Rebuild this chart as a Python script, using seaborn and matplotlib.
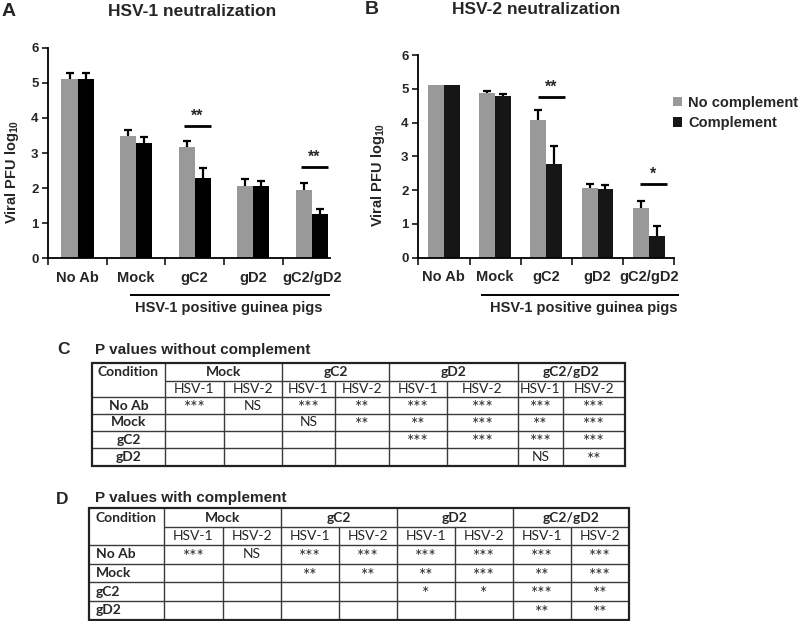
import numpy as np
import pandas as pd
import matplotlib
matplotlib.use("Agg")
import matplotlib.pyplot as plt
from matplotlib.patches import Rectangle
import seaborn as sns

# ---------------- data ----------------
categories = ["No Ab", "Mock", "gC2", "gD2", "gC2/gD2"]
hue_levels = ["No complement", "Complement"]

hsv1_nocomp = [5.10, 3.48, 3.18, 2.05, 1.94]
hsv1_nocomp_err = [0.17, 0.17, 0.17, 0.20, 0.20]
hsv1_comp = [5.10, 3.28, 2.29, 2.05, 1.27]
hsv1_comp_err = [0.17, 0.18, 0.28, 0.15, 0.14]

hsv2_nocomp = [5.10, 4.88, 4.09, 2.06, 1.47]
hsv2_nocomp_err = [0.0, 0.06, 0.27, 0.12, 0.20]
hsv2_comp = [5.10, 4.80, 2.78, 2.03, 0.65]
hsv2_comp_err = [0.0, 0.05, 0.52, 0.11, 0.30]

sig_A_cats = [2, 4]
sig_A_labels = ["**", "**"]
sig_A_levels = [3.77, 2.61]
sig_B_cats = [2, 4]
sig_B_labels = ["**", "*"]
sig_B_levels = [4.76, 2.18]

table_groups = ["Mock", "gC2", "gD2", "gC2/gD2"]
table_sub = ["HSV-1", "HSV-2"]
row_labels = ["No Ab", "Mock", "gC2", "gD2"]
pvals_no_comp = [
    ["***", "NS", "***", "**", "***", "***", "***", "***"],
    ["", "", "NS", "**", "**", "***", "**", "***"],
    ["", "", "", "", "***", "***", "***", "***"],
    ["", "", "", "", "", "", "NS", "**"],
]
pvals_comp = [
    ["***", "NS", "***", "***", "***", "***", "***", "***"],
    ["", "", "**", "**", "**", "***", "**", "***"],
    ["", "", "", "", "*", "*", "***", "**"],
    ["", "", "", "", "", "", "**", "**"],
]

# ---------------- style ----------------
sns.set_style("white")
plt.rcParams["font.family"] = ["Liberation Sans", "DejaVu Sans"]
plt.rcParams["font.weight"] = "bold"
plt.rcParams["mathtext.default"] = "regular"

GRAY = "#999999"
W, H = 800, 621
fig = plt.figure(figsize=(8, 6.21), dpi=100)


def rect(left, top, right, bottom):
    return [left / W, 1 - bottom / H, (right - left) / W, (bottom - top) / H]


axA = fig.add_axes(rect(48.3, 47.7, 330, 258.3))
axB = fig.add_axes(rect(418.3, 55, 674.3, 257.7))


def panel(ax, nc, nc_err, c, c_err, width, xmax, black, legend,
          sig_cats, sig_labels, sig_levels, span):
    df = pd.DataFrame({
        "category": categories * 2,
        "condition": [hue_levels[0]] * len(categories) + [hue_levels[1]] * len(categories),
        "value": list(nc) + list(c),
    })
    sns.barplot(data=df, x="category", y="value", hue="condition",
                order=categories, hue_order=hue_levels,
                palette=[GRAY, black], width=width, gap=0, errorbar=None,
                saturation=1, legend=legend, ax=ax, linewidth=0)
    bars = list(ax.containers)[:2]
    for cont, err in zip(bars, [nc_err, c_err]):
        xs, ys, es = [], [], []
        for p, e in zip(cont, err):
            if e > 0:
                xs.append(p.get_x() + p.get_width() / 2)
                ys.append(p.get_height())
                es.append(e)
        eb = ax.errorbar(xs, ys, yerr=[np.zeros(len(es)), es], fmt="none",
                         ecolor="black", elinewidth=1.6, capsize=2.6,
                         capthick=1.6, zorder=3)
        eb[1][0].set_visible(False)
    for i, s, y in zip(sig_cats, sig_labels, sig_levels):
        ax.plot([i + span[0], i + span[1]], [y, y], color="black", lw=2.0,
                solid_capstyle="butt", clip_on=False)
        ax.text(i + (span[0] + span[1]) / 2, y + 0.15, s, ha="center",
                va="baseline", fontsize=11.5, fontweight="bold")
    ax.set_ylim(0, 6)
    ax.set_xlim(-0.5, xmax)
    ax.set_yticks(range(7))
    ax.set_yticklabels([str(v) for v in range(7)], fontsize=9.5, fontweight="bold")
    bounds = np.arange(-0.5, xmax + 0.01, 1.0)
    ax.set_xticks(bounds, labels=[""] * len(bounds))
    ax.set_xticks(range(len(categories)), labels=categories, minor=True)
    ax.tick_params(axis="x", which="major", direction="out", length=5,
                   width=1.3, bottom=True)
    ax.tick_params(axis="x", which="minor", length=0, pad=9, labelsize=10.5)
    for lab in ax.get_xticklabels(minor=True):
        lab.set_fontweight("bold")
    ax.tick_params(axis="y", direction="out", length=4, width=1.3, pad=3, left=True)
    ax.set_xlabel("")
    ax.set_ylabel("")
    sns.despine(ax=ax)
    for sp in ("left", "bottom"):
        ax.spines[sp].set_linewidth(1.3)
        ax.spines[sp].set_color("black")


panel(axA, hsv1_nocomp, hsv1_nocomp_err, hsv1_comp, hsv1_comp_err,
      0.55, 4.31, "#000000", False, sig_A_cats, sig_A_labels, sig_A_levels,
      (-0.19, 0.27))
panel(axB, hsv2_nocomp, hsv2_nocomp_err, hsv2_comp, hsv2_comp_err,
      0.62, 4.5, "#161616", True, sig_B_cats, sig_B_labels, sig_B_levels,
      (-0.17, 0.36))

sns.move_legend(axB, "upper left", bbox_to_anchor=(0.995, 0.80), frameon=False,
                title=None, fontsize=10.5, handlelength=0.6, handleheight=0.6,
                handletextpad=0.45, labelspacing=0.45, borderpad=0, borderaxespad=0)
for t in axB.get_legend().get_texts():
    t.set_fontweight("bold")

# ---------------- overlay (titles, brackets, tables) ----------------
ov = fig.add_axes([0, 0, 1, 1])
ov.set_xlim(0, W)
ov.set_ylim(H, 0)
ov.axis("off")

ov.text(9, 11, "A", fontsize=14, fontweight="bold", ha="center", va="center")
ov.text(192, 11, "HSV-1 neutralization", fontsize=12.5, fontweight="bold",
        ha="center", va="center")
ov.text(372, 9, "B", fontsize=14, fontweight="bold", ha="center", va="center")
ov.text(536, 9, "HSV-2 neutralization", fontsize=12.5, fontweight="bold",
        ha="center", va="center")

ov.text(12, 172, "Viral PFU log$_{10}$", rotation=90, fontsize=10.5,
        fontweight="bold", ha="center", va="center")
ov.text(378, 175, "Viral PFU log$_{10}$", rotation=90, fontsize=10.5,
        fontweight="bold", ha="center", va="center")

for x0, x1, xc in [(130, 330, 229), (481, 679, 584)]:
    ov.plot([x0, x1], [295, 295], color="black", lw=1.4, solid_capstyle="butt")
    ov.text(xc, 308, "HSV-1 positive guinea pigs", fontsize=10.5,
            fontweight="bold", ha="center", va="center")

TFONT = ["Lato", "DejaVu Sans"]


def draw_table(cols, rows, vals, align_left):
    L, R, T, B = cols[0], cols[-1], rows[0], rows[-1]
    thin = dict(color="#3a3a3a", lw=1.0, solid_capstyle="butt")
    ov.plot([cols[1], R], [rows[1], rows[1]], **thin)
    for y in rows[2:-1]:
        ov.plot([L, R], [y, y], **thin)
    for k in range(1, len(cols) - 1):
        y0 = T if k % 2 == 1 else rows[1]
        ov.plot([cols[k], cols[k]], [y0, B], **thin)
    ov.add_patch(Rectangle((L, T), R - L, B - T, fill=False, lw=1.6,
                           ec="#222222", zorder=3))
    cy0 = (rows[0] + rows[1]) / 2
    cy1 = (rows[1] + rows[2]) / 2
    if align_left:
        cx, ha = L + 7, "left"
    else:
        cx, ha = (cols[0] + cols[1]) / 2, "center"
    ov.text(cx, cy0, "Condition", family=TFONT, fontweight="bold",
            fontsize=10, ha=ha, va="center")
    for g, name in enumerate(table_groups):
        xc = (cols[1 + 2 * g] + cols[3 + 2 * g]) / 2
        ov.text(xc, cy0, name, family=TFONT, fontweight="bold", fontsize=10,
                ha="center", va="center")
    for j in range(8):
        xc = (cols[1 + j] + cols[2 + j]) / 2
        ov.text(xc, cy1, table_sub[j % 2], family=TFONT, fontweight="normal",
                fontsize=10, ha="center", va="center")
    for r, lab in enumerate(row_labels):
        yc = (rows[2 + r] + rows[3 + r]) / 2
        ov.text(cx, yc, lab, family=TFONT, fontweight="bold", fontsize=10,
                ha=ha, va="center")
        for j, v in enumerate(vals[r]):
            if not v:
                continue
            xc = (cols[1 + j] + cols[2 + j]) / 2
            if v == "NS":
                ov.text(xc, yc, v, family=TFONT, fontweight="normal",
                        fontsize=10, ha="center", va="center")
            else:
                ov.text(xc, yc + 2.5, v, family=TFONT, fontweight="normal",
                        fontsize=12.5, color="#2a2a2a", ha="center", va="center")


colsC = [92, 165, 224, 282, 335, 389, 447, 518, 563, 625]
rowsC = [363, 381, 397, 414, 431, 448, 466]
colsD = [89, 164, 223, 281, 339, 397, 455, 513, 571, 629]
rowsD = [508, 527, 545, 564, 582, 601, 620]

ov.text(64, 350, "C", fontsize=12.5, fontweight="bold", ha="center", va="center")
ov.text(95, 350, "P values without complement", fontsize=11,
        fontweight="bold", ha="left", va="center")
draw_table(colsC, rowsC, pvals_no_comp, False)

ov.text(62, 499, "D", fontsize=12.5, fontweight="bold", ha="center", va="center")
ov.text(95, 498, "P values with complement", fontsize=11,
        fontweight="bold", ha="left", va="center")
draw_table(colsD, rowsD, pvals_comp, True)

fig.savefig("out.png", dpi=100)
